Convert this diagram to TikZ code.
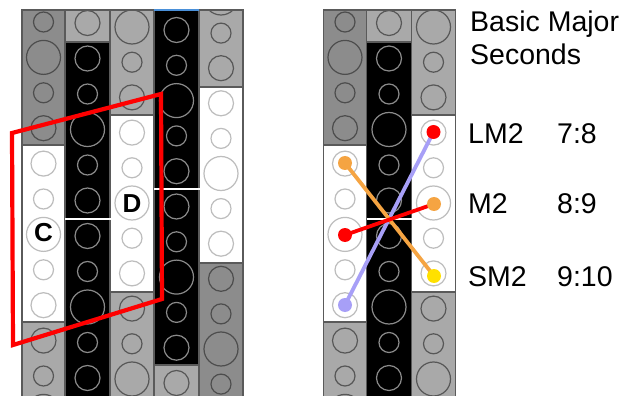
\documentclass[tikz,border=0pt]{standalone}
\usepackage{fontspec}
\setmainfont{Liberation Sans}
\definecolor{dkg}{HTML}{8C8C8C}
\definecolor{ltg}{HTML}{A9A9A9}
\definecolor{sdk}{HTML}{4D4D4D}
\definecolor{slt}{HTML}{575757}
\definecolor{sbk}{HTML}{8A8A8A}
\definecolor{swh}{HTML}{BDBDBD}
\definecolor{bordc}{HTML}{5A5A5A}
\definecolor{bluel}{HTML}{4A90D9}
\definecolor{orng}{HTML}{F5A442}
\definecolor{lavd}{HTML}{A79FF7}
\definecolor{yllw}{HTML}{FFE100}
\definecolor{redd}{HTML}{FF0000}
\tikzset{
  segborder/.style={draw=bordc, line width=1.8pt},
  octline/.style={draw=white, line width=2.2pt},
  frame/.style={draw=redd, line width=4.2pt, line join=miter},
  dotn/.style={circle, inner sep=0pt, minimum size=14pt},
  link/.style={line width=3.8pt},
  txt/.style={inner sep=0pt, anchor=base west, font=\fontsize{28.5}{33}\selectfont},
  lbl/.style={inner sep=0pt, font=\fontsize{26}{28}\selectfont\bfseries}
}
\newcommand\keyseg[9]{%
  \begin{scope}
    \clip (#1,#3) rectangle (#2,#4);
    \fill[#5] (#1,#3) rectangle (#2,#4);
    \foreach \k in {-1,...,12}{%
      \pgfmathsetmacro\rr{{17,10,12.5,12.5,10}[mod(\k+#9+5,5)]}%
      \draw[#6, line width=1.2pt] ({(#1+#2)/2}, {#7+(\k)*#8}) circle[radius=\rr];
    }
  \end{scope}
  \draw[segborder] (#1,#3) rectangle (#2,#4);
}
\begin{document}
\begin{tikzpicture}[x=1pt,y=-1pt]
\useasboundingbox (0,0) rectangle (625,396);
% ---------- left diagram ----------
\keyseg{22}{65}{10}{145}{dkg}{sdk}{22}{35.4}{4}
\keyseg{22}{65}{145}{322}{white}{swh}{22}{35.4}{4}
\keyseg{22}{65}{322}{399}{ltg}{slt}{22}{35.4}{4}
\keyseg{65}{110}{10}{42}{ltg}{slt}{23}{35.5}{2}
\keyseg{65}{110}{42}{399}{black}{sbk}{23}{35.5}{2}
\keyseg{110}{154}{10}{115}{ltg}{slt}{27}{35.2}{0}
\keyseg{110}{154}{115}{292}{white}{swh}{27}{35.2}{0}
\keyseg{110}{154}{292}{399}{ltg}{slt}{27}{35.2}{0}
\keyseg{154}{199}{10}{365}{black}{sbk}{30}{35.3}{3}
\keyseg{154}{199}{365}{399}{ltg}{slt}{30}{35.3}{3}
\keyseg{199}{243}{10}{87}{ltg}{slt}{-2}{35.1}{0}
\keyseg{199}{243}{87}{263}{white}{swh}{-2}{35.1}{0}
\keyseg{199}{243}{263}{399}{dkg}{sdk}{-2}{35.1}{0}
\draw[octline] (65,219) -- (111,219);
\draw[octline] (154,189) -- (200,189);
\draw[draw=bluel, line width=1.8pt] (154,10) -- (199,10);
\node[lbl] (C) at (43.5,233) {C};
\node[lbl] (D) at (132,204) {D};
\draw[frame] (12,133) -- (161,94) -- (162,299) -- (13,345) -- cycle;
% ---------- right diagram ----------
\begin{scope}[xshift=301.5pt]
\keyseg{22}{65}{10}{145}{dkg}{sdk}{22}{35.4}{4}
\keyseg{22}{65}{145}{322}{white}{swh}{22}{35.4}{4}
\keyseg{22}{65}{322}{399}{ltg}{slt}{22}{35.4}{4}
\keyseg{65}{110}{10}{42}{ltg}{slt}{23}{35.5}{2}
\keyseg{65}{110}{42}{399}{black}{sbk}{23}{35.5}{2}
\keyseg{110}{154}{10}{115}{ltg}{slt}{27}{35.2}{0}
\keyseg{110}{154}{115}{292}{white}{swh}{27}{35.2}{0}
\keyseg{110}{154}{292}{399}{ltg}{slt}{27}{35.2}{0}
\draw[octline] (65,219) -- (111,219);
\end{scope}
\coordinate (pOA) at (345,163);
\coordinate (pRA) at (345,235);
\coordinate (pLA) at (345,305);
\coordinate (pRC) at (433.5,132);
\coordinate (pOC) at (434,204);
\coordinate (pYC) at (434,276);
\draw[link, lavd] (pLA) -- (pRC);
\draw[link, orng] (pOA) -- (pYC);
\draw[link, redd] (pRA) -- (pOC);
\node[dotn, fill=lavd] (dLA) at (pLA) {};
\node[dotn, fill=orng] (dOA) at (pOA) {};
\node[dotn, fill=redd] (dRA) at (pRA) {};
\node[dotn, fill=redd] (dRC) at (pRC) {};
\node[dotn, fill=orng] (dOC) at (pOC) {};
\node[dotn, fill=yllw] (dYC) at (pYC) {};
% ---------- text ----------
\node[txt] (t1) at (470,32) {Basic Major};
\node[txt] (t2) at (470,65) {Seconds};
\node[txt] (n1) at (468,143) {LM2};
\node[txt] (r1) at (557,143) {7:8};
\node[txt] (n2) at (468,213) {M2};
\node[txt] (r2) at (557,213) {8:9};
\node[txt] (n3) at (468,287) {SM2};
\node[txt] (r3) at (557,287) {9:10};
\end{tikzpicture}
\end{document}
